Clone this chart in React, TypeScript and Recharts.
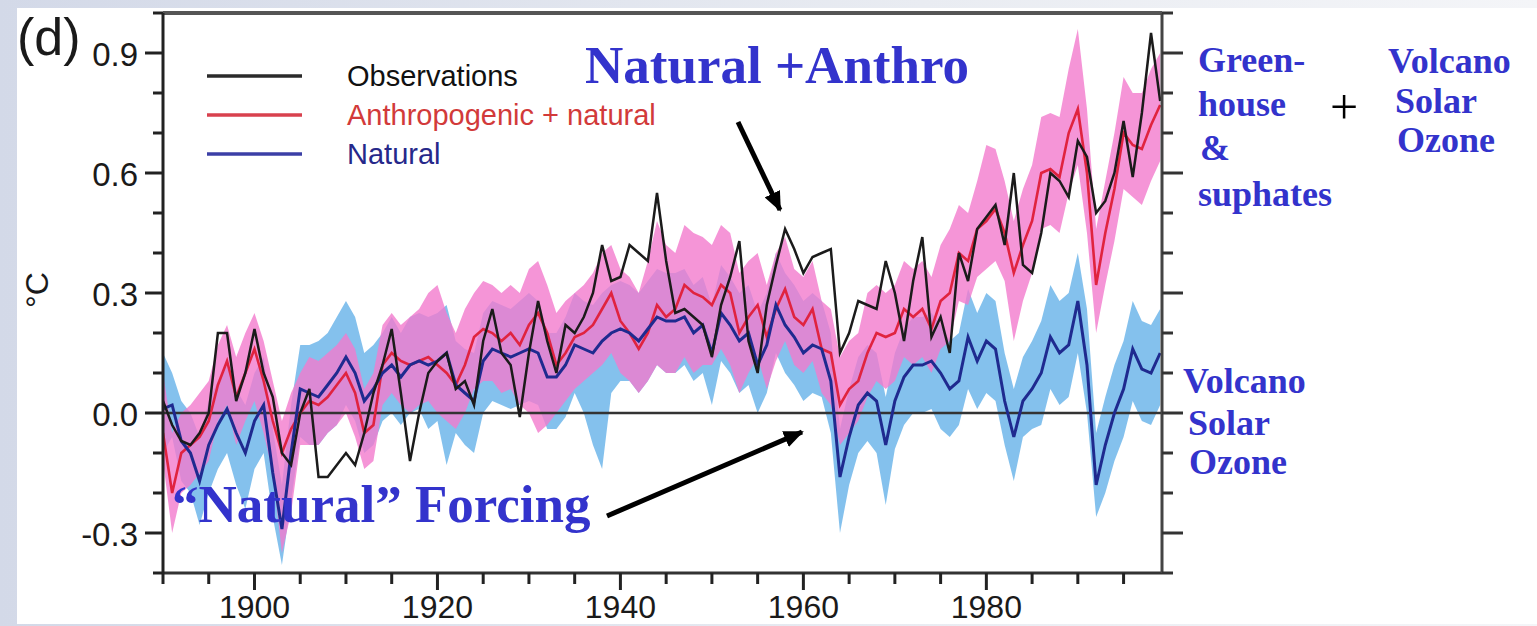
import { ComposedChart, Area, Line, XAxis, YAxis, ReferenceLine, Legend } from 'recharts';

const W = 1537;
const H = 626;
const FIRST_YEAR = 1890;

// Annual global mean temperature anomalies (°C), 1890-1999
const observations = [
  0.03, -0.03, -0.07, -0.08, -0.05, 0.0, 0.2, 0.2, 0.03, 0.1,
  0.21, 0.1, 0.04, -0.1, -0.13, 0.0, 0.06, -0.16, -0.16, -0.13,
  -0.1, -0.13, -0.05, 0.05, 0.12, 0.21, 0.05, -0.12, 0.0, 0.1,
  0.13, 0.15, 0.06, 0.08, 0.02, 0.18, 0.26, 0.15, 0.12, -0.01,
  0.15, 0.28, 0.18, 0.1, 0.22, 0.2, 0.24, 0.3, 0.42, 0.33,
  0.34, 0.42, 0.4, 0.38, 0.55, 0.38, 0.25, 0.26, 0.24, 0.22,
  0.14, 0.27, 0.34, 0.43, 0.18, 0.1, 0.27, 0.37, 0.46, 0.41,
  0.35, 0.39, 0.4, 0.41, 0.15, 0.2, 0.28, 0.27, 0.26, 0.38,
  0.3, 0.18, 0.33, 0.44, 0.19, 0.24, 0.15, 0.4, 0.33, 0.46,
  0.49, 0.52, 0.42, 0.6, 0.37, 0.35, 0.45, 0.6, 0.58, 0.54,
  0.68, 0.64, 0.5, 0.53, 0.6, 0.73, 0.59, 0.75, 0.95, 0.78,
];

// Model ensemble mean, anthropogenic + natural forcing
const anthroNatural = [
  -0.05, -0.2, -0.1, -0.08, -0.06, -0.02, 0.07, 0.13, 0.04, 0.1,
  0.16, 0.08, -0.02, -0.1, -0.04, 0.0, 0.03, 0.02, 0.04, 0.07,
  0.1, 0.05, -0.05, -0.03, 0.12, 0.15, 0.13, 0.12, 0.13, 0.14,
  0.12, 0.1, 0.07, 0.12, 0.19, 0.21, 0.2, 0.18, 0.2, 0.17,
  0.22, 0.25, 0.2, 0.12, 0.15, 0.19, 0.2, 0.22, 0.26, 0.3,
  0.23, 0.2, 0.16, 0.2, 0.27, 0.24, 0.26, 0.32, 0.3, 0.29,
  0.27, 0.32, 0.3, 0.2, 0.24, 0.27, 0.19, 0.26, 0.31, 0.24,
  0.22, 0.26, 0.16, 0.15, 0.02, 0.06, 0.08, 0.15, 0.2, 0.19,
  0.2, 0.26, 0.24, 0.26, 0.21, 0.28, 0.3, 0.4, 0.38, 0.46,
  0.48, 0.51, 0.45, 0.35, 0.42, 0.48, 0.6, 0.61, 0.59, 0.7,
  0.76, 0.6, 0.32, 0.45, 0.56, 0.7, 0.67, 0.66, 0.72, 0.77,
];
const anthroLow = [
  -0.12, -0.3, -0.2, -0.18, -0.15, -0.12, -0.02, 0.02, -0.08, -0.02,
  0.03, -0.05, -0.15, -0.35, -0.25, -0.08, -0.08, -0.08, -0.05, -0.03,
  0.0, -0.06, -0.14, -0.12, 0.02, 0.05, 0.02, 0.0, 0.02, 0.03,
  0.0, -0.02, -0.04, 0.0, 0.06, 0.08, 0.08, 0.05, 0.06, 0.02,
  0.0, -0.05, -0.03, 0.0, 0.03, 0.06, 0.08, 0.1, 0.12, 0.15,
  0.1, 0.08, 0.05, 0.08, 0.12, 0.1, 0.1, 0.14, 0.1, 0.12,
  0.12, 0.16, 0.12, 0.05, 0.1, 0.14, 0.06, 0.13, 0.18, 0.12,
  0.1, 0.13, 0.05, 0.02, -0.08, -0.05, -0.02, 0.04, 0.08, 0.06,
  0.08, 0.14, 0.12, 0.14, 0.1, 0.16, 0.18, 0.28, 0.27, 0.34,
  0.36, 0.38, 0.33, 0.18, 0.28, 0.35, 0.46, 0.47, 0.45, 0.55,
  0.62, 0.45, 0.2, 0.32, 0.43, 0.56, 0.54, 0.52, 0.58, 0.63,
];
const anthroHigh = [
  0.1, -0.05, 0.0, 0.02, 0.05, 0.08, 0.17, 0.22, 0.14, 0.2,
  0.25, 0.18, 0.08, -0.02, 0.05, 0.1, 0.14, 0.13, 0.15, 0.17,
  0.2, 0.16, 0.06, 0.1, 0.22, 0.25, 0.22, 0.24, 0.26, 0.3,
  0.32, 0.25, 0.2, 0.26, 0.3, 0.33, 0.32, 0.3, 0.32, 0.3,
  0.36, 0.38, 0.32, 0.25, 0.28, 0.3, 0.32, 0.35, 0.4, 0.42,
  0.36, 0.34, 0.3, 0.38, 0.48, 0.42, 0.4, 0.47, 0.45, 0.44,
  0.42, 0.47, 0.45, 0.35, 0.38, 0.4, 0.32, 0.4, 0.44, 0.36,
  0.34, 0.38, 0.28, 0.26, 0.14, 0.18, 0.2, 0.3, 0.32, 0.3,
  0.32, 0.38, 0.36, 0.38, 0.34, 0.42, 0.46, 0.52, 0.5, 0.58,
  0.67, 0.66, 0.58, 0.48, 0.56, 0.62, 0.74, 0.75, 0.74, 0.86,
  0.96, 0.76, 0.46, 0.58, 0.7, 0.84, 0.8, 0.8, 0.86, 0.9,
];

// Model ensemble mean, natural forcing only
const natural = [
  0.01, 0.02, -0.07, -0.1, -0.17, -0.08, -0.03, 0.01, -0.05, -0.1,
  -0.02, 0.02, -0.15, -0.29, -0.1, 0.06, 0.05, 0.04, 0.07, 0.1,
  0.14, 0.1, 0.03, 0.06, 0.1, 0.12, 0.09, 0.12, 0.13, 0.12,
  0.13, 0.15, 0.07, 0.05, 0.03, 0.13, 0.16, 0.15, 0.14, 0.15,
  0.16, 0.15, 0.09, 0.09, 0.12, 0.17, 0.16, 0.15, 0.18, 0.2,
  0.21, 0.2, 0.18, 0.21, 0.24, 0.23, 0.23, 0.24, 0.2, 0.22,
  0.15, 0.25, 0.22, 0.18, 0.2, 0.12, 0.17, 0.27, 0.22, 0.19,
  0.15, 0.17, 0.16, 0.08, -0.16, -0.06, 0.02, 0.05, 0.03, -0.08,
  0.03, 0.09, 0.12, 0.12, 0.13, 0.1, 0.06, 0.08, 0.19, 0.13,
  0.18, 0.16, 0.03, -0.06, 0.03, 0.06, 0.1, 0.19, 0.15, 0.17,
  0.28, 0.12, -0.18, -0.08, 0.0, 0.06, 0.16, 0.11, 0.1, 0.15,
];
const naturalLow = [
  -0.1, -0.06, -0.17, -0.2, -0.28, -0.2, -0.14, -0.1, -0.18, -0.24,
  -0.14, -0.1, -0.26, -0.38, -0.22, -0.06, -0.08, -0.08, -0.05, -0.03,
  0.02, -0.02, -0.1, -0.08, -0.02, 0.0, -0.03, 0.0, 0.01, -0.04,
  -0.02, -0.13, -0.05, -0.08, -0.1, 0.0, 0.03, 0.02, 0.01, 0.02,
  0.03, 0.02, -0.04, -0.04, -0.01, 0.05, 0.0, -0.08, -0.14, 0.05,
  0.08, 0.08, 0.05, 0.08, 0.12, 0.1, 0.1, 0.12, 0.08, 0.1,
  0.02, 0.13, 0.1, 0.05, 0.07, 0.0, 0.05, 0.15, 0.1, 0.07,
  0.03, 0.05, 0.04, -0.05, -0.3, -0.18, -0.1, -0.07, -0.1, -0.23,
  -0.09, -0.03, 0.0, 0.0, 0.01, -0.04, -0.06, -0.03, 0.06, 0.01,
  0.05, 0.03, -0.08, -0.17, -0.06, -0.04, -0.03, 0.06, 0.02, 0.04,
  0.15, 0.0, -0.26, -0.2, -0.12, -0.06, 0.03, -0.02, -0.03, 0.02,
];
const naturalHigh = [
  0.15, 0.1, 0.03, 0.0, -0.06, 0.03, 0.08, 0.12, 0.06, 0.02,
  0.1, 0.14, -0.04, -0.18, 0.02, 0.17, 0.17, 0.18, 0.2, 0.24,
  0.28, 0.24, 0.15, 0.17, 0.2, 0.24, 0.2, 0.24, 0.25, 0.24,
  0.25, 0.27, 0.18, 0.16, 0.15, 0.25, 0.28, 0.27, 0.26, 0.28,
  0.3, 0.28, 0.2, 0.2, 0.24, 0.3, 0.28, 0.27, 0.3, 0.32,
  0.33, 0.32, 0.3, 0.33, 0.36, 0.35, 0.35, 0.36, 0.32, 0.34,
  0.27, 0.37, 0.34, 0.3, 0.32, 0.25, 0.3, 0.4, 0.35, 0.32,
  0.28, 0.3, 0.28, 0.2, -0.04, 0.06, 0.14, 0.17, 0.15, 0.04,
  0.15, 0.21, 0.24, 0.24, 0.25, 0.22, 0.18, 0.2, 0.31, 0.25,
  0.3, 0.28, 0.15, 0.06, 0.14, 0.18, 0.23, 0.32, 0.28, 0.3,
  0.4, 0.26, -0.05, 0.04, 0.12, 0.18, 0.28, 0.23, 0.22, 0.26,
];

const X_TICKS = [1890, 1895, 1900, 1905, 1910, 1915, 1920, 1925, 1930, 1935, 1940, 1945, 1950, 1955, 1960, 1965, 1970, 1975, 1980, 1985, 1990, 1995];
const X_LABELS = [1900, 1920, 1940, 1960, 1980];
const Y_TICKS = [-0.4, -0.3, -0.2, -0.1, 0.0, 0.1, 0.2, 0.3, 0.4, 0.5, 0.6, 0.7, 0.8, 0.9, 1.0];
const Y_LABELS = [-0.3, 0.0, 0.3, 0.6, 0.9];

const LEGEND_ITEMS = [
  { label: 'Observations', line: '#2a2a2a', text: '#111111' },
  { label: 'Anthropogenic + natural', line: '#d8414e', text: '#d23a3a' },
  { label: 'Natural', line: '#3b3fa6', text: '#26288a' },
];

const data = observations.map((obs, i) => ({
  year: FIRST_YEAR + i,
  obs,
  anthro: anthroNatural[i],
  natural: natural[i],
  anthroBand: [anthroLow[i], anthroHigh[i]],
  naturalBand: [naturalLow[i], naturalHigh[i]],
}));

const SANS = '"Liberation Sans", Arial, Helvetica, sans-serif';
const SERIF = '"Liberation Serif", "Times New Roman", serif';
const NOTE = '#3333cc';

const isLabel = (list: number[], v: number) => list.some((l) => Math.abs(l - v) < 1e-6);

function LeftTick({ x, y, payload }: any) {
  const major = isLabel(Y_LABELS, payload.value);
  return (
    <g>
      <line x1={x - (major ? 18 : 10)} x2={x} y1={y} y2={y} stroke="#222" strokeWidth={3} />
      {major && (
        <text x={x - 25} y={y + 13} textAnchor="end" fontSize={33} fontFamily={SANS} fill="#1a1a1a">
          {payload.value.toFixed(1)}
        </text>
      )}
    </g>
  );
}

function RightTick({ x, y, payload }: any) {
  const major = isLabel(Y_LABELS, payload.value);
  return <line x1={x} x2={x + (major ? 21 : 11)} y1={y} y2={y} stroke="#333" strokeWidth={3} />;
}

function BottomTick({ x, y, payload }: any) {
  const major = X_LABELS.includes(payload.value);
  return (
    <g>
      <line x1={x} x2={x} y1={y} y2={y + (major ? 17 : 11)} stroke="#222" strokeWidth={3} />
      {major && (
        <text x={x} y={y + 45} textAnchor="middle" fontSize={32} fontFamily={SANS} fill="#1a1a1a">
          {payload.value}
        </text>
      )}
    </g>
  );
}

function LegendBox() {
  return (
    <svg width={480} height={125} style={{ display: 'block' }}>
      {LEGEND_ITEMS.map((item, i) => {
        const cy = 21 + i * 39;
        return (
          <g key={item.label}>
            <line x1={12} x2={107} y1={cy} y2={cy} stroke={item.line} strokeWidth={3.5} />
            <text x={152} y={cy + 10} fontSize={29} fontFamily={SANS} fill={item.text}>
              {item.label}
            </text>
          </g>
        );
      })}
    </svg>
  );
}

export default function App() {
  return (
    <div
      style={{
        position: 'absolute',
        left: 0,
        top: 0,
        width: W,
        height: H,
        overflow: 'hidden',
        background: 'linear-gradient(90deg, #d3d9e8 0%, #e9ecf2 60%, #f4f5f8 100%)',
      }}
    >
      <div style={{ position: 'absolute', left: 17, top: 8, width: W - 17, height: 616, background: '#ffffff' }} />
      <div style={{ position: 'absolute', left: 0, top: 0 }}>
        <ComposedChart width={W} height={H} data={data} margin={{ top: 13, right: 345, bottom: 0, left: 0 }}>
          <XAxis
            dataKey="year"
            type="number"
            domain={[1890, 1999.2]}
            allowDataOverflow
            ticks={X_TICKS}
            interval={0}
            tick={<BottomTick />}
            tickLine={false}
            tickSize={0}
            tickMargin={0}
            height={53}
            axisLine={{ stroke: '#333', strokeWidth: 3 }}
          />
          <YAxis
            yAxisId="left"
            domain={[-0.4, 1.0]}
            allowDataOverflow
            ticks={Y_TICKS}
            interval={0}
            tick={<LeftTick />}
            tickLine={false}
            tickSize={0}
            tickMargin={0}
            width={163}
            axisLine={{ stroke: '#222', strokeWidth: 3 }}
          />
          <YAxis
            yAxisId="right"
            orientation="right"
            domain={[-0.4, 1.0]}
            allowDataOverflow
            ticks={Y_TICKS}
            interval={0}
            tick={<RightTick />}
            tickLine={false}
            tickSize={0}
            tickMargin={0}
            width={30}
            axisLine={{ stroke: '#444', strokeWidth: 3 }}
          />
          <ReferenceLine yAxisId="right" y={1.0} stroke="#555" strokeWidth={4} />
          <Area
            yAxisId="left"
            dataKey="naturalBand"
            type="linear"
            stroke="none"
            fill="#6fb6ea"
            fillOpacity={0.85}
            isAnimationActive={false}
            activeDot={false}
          />
          <Area
            yAxisId="left"
            dataKey="anthroBand"
            type="linear"
            stroke="none"
            fill="#f27bcd"
            fillOpacity={0.8}
            isAnimationActive={false}
            activeDot={false}
          />
          <ReferenceLine yAxisId="left" y={0} stroke="#333" strokeWidth={2.5} />
          <Line yAxisId="left" dataKey="anthro" type="linear" stroke="#e0233f" strokeWidth={2.6} dot={false} activeDot={false} isAnimationActive={false} />
          <Line yAxisId="left" dataKey="natural" type="linear" stroke="#1f2a8f" strokeWidth={3} dot={false} activeDot={false} isAnimationActive={false} />
          <Line yAxisId="left" dataKey="obs" type="linear" stroke="#1b1b1b" strokeWidth={2.5} dot={false} activeDot={false} isAnimationActive={false} />
          <Legend
            layout="horizontal"
            align="center"
            verticalAlign="middle"
            content={() => <LegendBox />}
            wrapperStyle={{ left: 195, top: 55, width: 480, height: 125 }}
          />
        </ComposedChart>
      </div>
      <svg width={W} height={H} style={{ position: 'absolute', left: 0, top: 0, pointerEvents: 'none' }}>
        <defs>
          <marker id="head" viewBox="0 0 4 3.4" refX={3.6} refY={1.7} markerWidth={4} markerHeight={3.4} orient="auto">
            <path d="M0,0 L4,1.7 L0,3.4 Z" fill="#000" />
          </marker>
        </defs>
        <text x={17} y={55} fontSize={52} fontFamily={SANS} fill="#1a1a1a">(d)</text>
        <text x={48} y={290} fontSize={32} fontFamily={SANS} fill="#1a1a1a" textAnchor="middle" transform="rotate(-90 48 290)">
          °C
        </text>

        <g fontFamily={SERIF} fontWeight="bold" fill={NOTE}>
          <text x={585} y={83} fontSize={53}>Natural +Anthro</text>
          <text x={172} y={522} fontSize={53}>“Natural” Forcing</text>
          <g fontSize={36}>
            <text x={1198} y={72}>Green-</text>
            <text x={1198} y={116}>house</text>
            <text x={1200} y={160}>&amp;</text>
            <text x={1198} y={206}>suphates</text>
            <text x={1388} y={73}>Volcano</text>
            <text x={1395} y={113}>Solar</text>
            <text x={1397} y={152}>Ozone</text>
            <text x={1183} y={393}>Volcano</text>
            <text x={1188} y={435}>Solar</text>
            <text x={1189} y={474}>Ozone</text>
          </g>
        </g>
        <text x={1344} y={124} fontSize={50} fontFamily={SERIF} textAnchor="middle" fill="#000">+</text>

        <line x1={738} y1={122} x2={780} y2={210} stroke="#000" strokeWidth={5} markerEnd="url(#head)" />
        <line x1={607} y1={516} x2={802} y2={432} stroke="#000" strokeWidth={5} markerEnd="url(#head)" />
      </svg>
    </div>
  );
}
